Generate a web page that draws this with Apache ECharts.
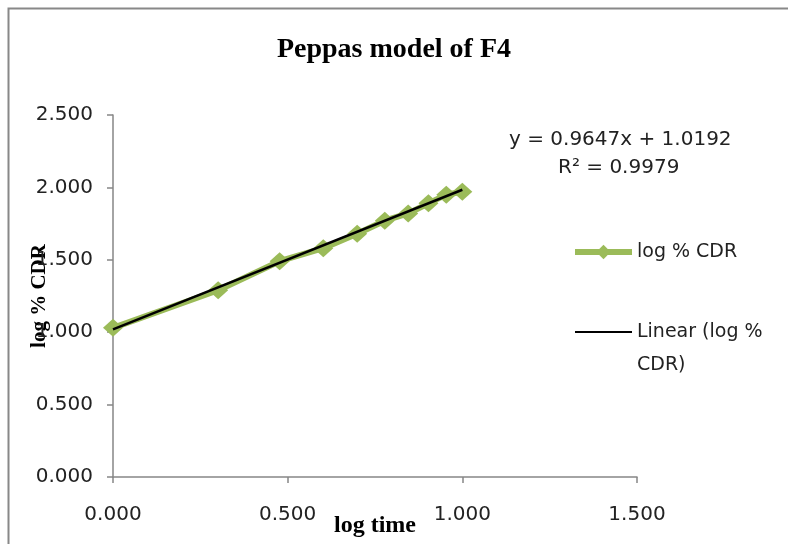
<!DOCTYPE html>
<html>
<head>
<meta charset="utf-8">
<script src="https://cdn.jsdelivr.net/npm/echarts@6/dist/echarts.min.js"></script>
<style>
  html, body { margin: 0; padding: 0; background: #fff; }
  #chart { width: 788px; height: 544px; }
</style>
</head>
<body>
<div id="chart"></div>
<script>
// log time (x) and log % CDR (y)
const logTime = [0, 0.301, 0.477, 0.602, 0.699, 0.778, 0.845, 0.903, 0.954, 1.0];
const logCDR = [1.03, 1.29, 1.49, 1.58, 1.68, 1.77, 1.82, 1.89, 1.95, 1.97];
// trendline end points (y = 0.9647x + 1.0192)
const trendX = [0, 1.0];
const trendY = [1.019, 1.984];
const xTicks = ['0.000', '0.500', '1.000', '1.500'];
const yTicks = ['0.000', '0.500', '1.000', '1.500', '2.000', '2.500'];

const green = '#9BBB59';
const sans = 'DejaVu Sans';
const serif = 'Liberation Serif';

const myChart = echarts.init(document.getElementById('chart'));
const option = {
  animation: false,
  title: {
    text: 'Peppas model of F4',
    left: 'center',
    top: 31,
    textStyle: {
      fontFamily: serif,
      fontWeight: 'bold',
      fontSize: 28,
      color: '#000',
    },
  },
  grid: {
    left: 113,
    right: 151,
    top: 115,
    bottom: 67,
    containLabel: false,
    outerBoundsMode: 'none',
  },
  xAxis: {
    type: 'value',
    min: 0,
    max: 1.5,
    interval: 0.5,
    name: 'log time',
    nameLocation: 'middle',
    nameGap: 37,
    nameMoveOverlap: false,
    nameTextStyle: {
      fontFamily: serif,
      fontWeight: 'bold',
      fontSize: 24,
      color: '#000',
    },
    splitLine: { show: false },
    axisLine: { lineStyle: { color: '#868686', width: 1.5 } },
    axisTick: { length: 6, lineStyle: { color: '#868686', width: 1.5 } },
    axisLabel: {
      fontFamily: sans,
      fontSize: 20,
      color: '#222',
      margin: 28,
      formatter: (v) => xTicks[Math.round(v / 0.5)],
    },
  },
  yAxis: {
    type: 'value',
    min: 0,
    max: 2.5,
    interval: 0.5,
    name: 'log % CDR',
    nameLocation: 'middle',
    nameGap: 63,
    nameMoveOverlap: false,
    nameRotate: 90,
    nameTextStyle: {
      fontFamily: serif,
      fontWeight: 'bold',
      fontSize: 21,
      color: '#000',
    },
    splitLine: { show: false },
    axisLine: { show: true, lineStyle: { color: '#868686', width: 1.5 } },
    axisTick: { show: true, length: 6, lineStyle: { color: '#868686', width: 1.5 } },
    axisLabel: {
      fontFamily: sans,
      fontSize: 20,
      color: '#222',
      margin: 20,
      formatter: (v) => yTicks[Math.round(v / 0.5)],
    },
  },
  legend: {
    orient: 'vertical',
    left: 572,
    top: 240,
    padding: 0,
    itemGap: 56,
    itemWidth: 57,
    itemHeight: 18,
    textStyle: {
      fontFamily: sans,
      fontSize: 19,
      color: '#222',
      lineHeight: 24,
    },
    formatter: (name) => (name === 'Linear (log % CDR)' ? 'Linear (log %' : name),
    data: [
      { name: 'log % CDR', lineStyle: { width: 6 } },
      { name: 'Linear (log % CDR)', itemStyle: { opacity: 0 }, lineStyle: { width: 2 } },
    ],
  },
  graphic: [
    {
      type: 'rect',
      shape: { x: 8.5, y: 8.5, width: 800, height: 560 },
      style: { fill: 'none', stroke: '#888', lineWidth: 2 },
      silent: true,
    },
    {
      type: 'text',
      left: 509,
      top: 130,
      style: {
        text: 'y = 0.9647x + 1.0192',
        font: '20px "DejaVu Sans"',
        fill: '#222',
      },
    },
    {
      type: 'text',
      left: 558,
      top: 158,
      style: {
        text: 'R² = 0.9979',
        font: '20px "DejaVu Sans"',
        fill: '#222',
      },
    },
    {
      type: 'text',
      left: 637,
      top: 356,
      style: {
        text: 'CDR)',
        font: '19px "DejaVu Sans"',
        fill: '#222',
      },
    },
  ],
  series: [
    {
      name: 'log % CDR',
      type: 'line',
      data: logTime.map((x, i) => [x, logCDR[i]]),
      symbol: 'diamond',
      symbolSize: [20, 18],
      itemStyle: { color: green },
      lineStyle: { color: green, width: 6 },
      z: 2,
    },
    {
      name: 'Linear (log % CDR)',
      type: 'line',
      data: trendX.map((x, i) => [x, trendY[i]]),
      symbol: 'none',
      itemStyle: { color: '#000' },
      lineStyle: { color: '#000', width: 2.5 },
      z: 3,
    },
  ],
};
myChart.setOption(option);
</script>
</body>
</html>
